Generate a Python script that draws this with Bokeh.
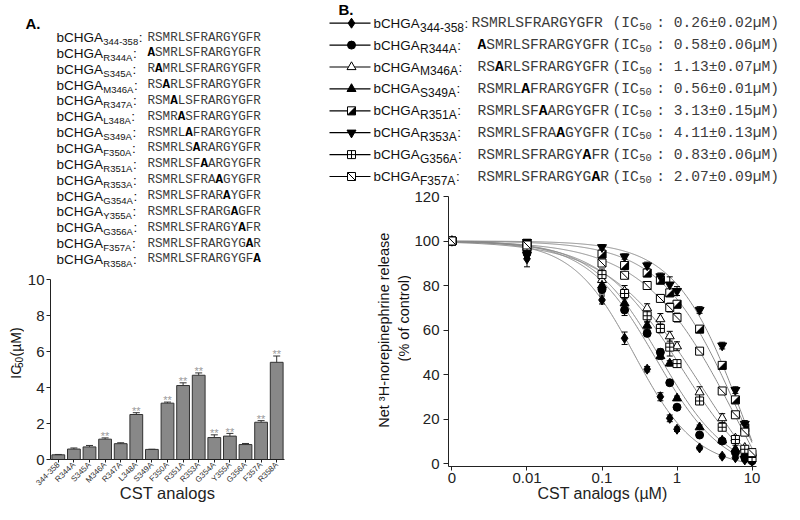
import math
import numpy as np
from bokeh.plotting import figure
from bokeh.models import Range1d, FactorRange, FixedTicker
from bokeh.layouts import row, column
from bokeh.core.properties import value
from bokeh.embed import file_html
from bokeh.resources import INLINE

SANS = "Liberation Sans"
MONO = "Liberation Mono"

# ---------------- data ----------------
base_sequence = "RSMRLSFRARGYGFR"
first_residue = 344

analogs_a = ["344-358", "R344A", "S345A", "M346A", "R347A", "L348A", "S349A", "F350A",
             "R351A", "R353A", "G354A", "Y355A", "G356A", "F357A", "R358A"]
ic50_a = [0.26, 0.58, 0.70, 1.13, 0.88, 2.50, 0.56, 3.13, 4.11, 4.68, 1.22, 1.30, 0.83, 2.07, 5.40]
ic50_err_a = [0.02, 0.06, 0.08, 0.07, 0.05, 0.10, 0.01, 0.06, 0.15, 0.13, 0.15, 0.15, 0.06, 0.09, 0.35]
significant_a = [False, False, False, True, False, True, False, True, True, True, True, True, False, True, True]
yticks_a = [0, 2, 4, 6, 8, 10]

conc_b = [0, 0.01, 0.1, 0.2, 0.4, 0.6, 0.8, 1, 2, 4, 6, 8, 10]
zero_position_b = 0.001
xticks_b = [0.001, 0.01, 0.1, 1, 10]
xtick_labels_b = ["0", "0.01", "0.1", "1", "10"]
yticks_b = [0, 20, 40, 60, 80, 100, 120]

series_b = ["344-358", "R344A", "M346A", "S349A", "R351A", "R353A", "G356A", "F357A"]
ic50_text_b = ["0.26±0.02", "0.58±0.06", "1.13±0.07", "0.56±0.01",
               "3.13±0.15", "4.11±0.13", "0.83±0.06", "2.07±0.09"]

release_344_358 = [100, 92.0, 73.5, 56.3, 42.4, 30.0, 20.3, 15.4, 7.0, 3.3, 2.6, 1.6, 0.9]
release_R344A = [100, 94.5, 78.2, 69.0, 58.5, 50.0, 36.3, 25.3, 12.8, 10.1, 5.0, 2.7, 1.2]
release_M346A = [100, 97.0, 82.5, 77.5, 69.8, 64.9, 57.2, 52.7, 32.0, 20.4, 11.3, 7.1, 3.0]
release_S349A = [100, 96.0, 80.0, 72.0, 62.0, 48.3, 45.0, 29.3, 16.3, 10.4, 6.4, 4.1, 2.0]
release_R351A = [100, 99.0, 94.1, 89.0, 85.6, 82.4, 76.7, 71.6, 60.4, 44.1, 28.6, 16.0, 4.1]
release_R353A = [100, 99.5, 97.2, 93.0, 89.0, 84.1, 80.4, 77.5, 69.0, 53.0, 33.0, 17.8, 2.7]
release_G356A = [100, 97.5, 84.9, 76.4, 66.4, 60.7, 52.3, 44.9, 28.1, 16.3, 10.8, 6.4, 2.7]
release_F357A = [100, 98.2, 90.1, 84.6, 80.0, 74.2, 70.1, 65.6, 50.5, 32.6, 21.9, 14.1, 4.9]

sem_344_358 = [1.5, 3.6, 1.8, 2.8, 1.2, 1.8, 1.5, 1.0, 0.8, 0.8, 0.6, 0.6, 0.5]
sem_R344A = [1.5, 2.5, 2.0, 2.5, 1.5, 1.5, 1.2, 1.2, 1.0, 0.8, 0.8, 0.6, 0.6]
sem_M346A = [1.5, 1.5, 2.0, 2.5, 2.0, 2.5, 2.2, 2.0, 2.5, 2.0, 1.2, 1.0, 0.8]
sem_S349A = [1.5, 1.5, 1.5, 2.0, 1.5, 1.5, 1.2, 1.0, 1.0, 0.8, 1.8, 0.8, 0.6]
sem_R351A = [1.0, 1.5, 1.5, 1.5, 1.5, 1.5, 1.5, 1.5, 1.0, 1.2, 1.2, 1.0, 0.8]
sem_R353A = [1.0, 1.0, 1.2, 1.2, 1.5, 1.5, 3.5, 2.0, 1.5, 1.5, 1.5, 1.5, 0.8]
sem_G356A = [1.5, 2.0, 2.5, 2.0, 2.5, 2.0, 4.0, 1.5, 1.5, 1.5, 1.2, 1.0, 0.8]
sem_F357A = [1.0, 1.5, 1.5, 1.5, 1.5, 1.5, 2.0, 2.0, 1.2, 1.5, 1.2, 1.0, 1.0]

release_b = [release_344_358, release_R344A, release_M346A, release_S349A,
             release_R351A, release_R353A, release_G356A, release_F357A]
sem_b = [sem_344_358, sem_R344A, sem_M346A, sem_S349A,
         sem_R351A, sem_R353A, sem_G356A, sem_F357A]
marker_kinds_b = ["diamond", "circle", "open_triangle", "triangle",
                  "half_square", "inverted_triangle", "square_cross", "square_diag"]

# ---------------- helpers ----------------
AW = {'b': 556, 'C': 722, 'H': 722, 'G': 778, 'A': 667, 'R': 722, 'S': 667, 'M': 833,
      'L': 556, 'F': 611, 'Y': 667, '-': 333, ':': 278, ' ': 278, 'I': 278, '(': 333,
      ')': 333, 'µ': 576}


def tw(s, size):
    return sum(AW.get(c, 556) for c in s) * size / 1000.0


def txt(p, xs, ys, texts, size, font=SANS, style="normal", color="#111111",
        align="left", angle=0.0, baseline="middle"):
    p.text(x=list(xs), y=list(ys), text=list(texts),
           text_font=value(font), text_font_size=value(f"{size}px"),
           text_font_style=value(style), text_color=value(color),
           text_align=value(align), text_baseline=value(baseline), angle=angle)


def blank(w, h):
    p = figure(width=w, height=h, x_range=Range1d(0, w), y_range=Range1d(0, h),
               output_backend="svg", toolbar_location=None,
               x_axis_location=None, y_axis_location=None, min_border=0)
    p.outline_line_color = None
    p.grid.visible = False
    return p


def mutation_index(name):
    if name[0].isalpha() and name.endswith("A"):
        return int(name[1:-1]) - first_residue
    return None


def draw_sequences(p, x0s, ys, names, size):
    adv = 0.6 * size
    nx, ny, nt, bx, by = [], [], [], [], []
    for x0, y, name in zip(x0s, ys, names):
        k = mutation_index(name)
        if k is None:
            nx.append(x0); ny.append(y); nt.append(base_sequence)
        else:
            if k > 0:
                nx.append(x0); ny.append(y); nt.append(base_sequence[:k])
            bx.append(x0 + k * adv); by.append(y)
            if k < len(base_sequence) - 1:
                nx.append(x0 + (k + 1) * adv); ny.append(y); nt.append(base_sequence[k + 1:])
    txt(p, nx, ny, nt, size, font=MONO, color="#3c3c3c")
    txt(p, bx, by, ["A"] * len(bx), size, font=MONO, style="bold", color="#000000")


def draw_markers(p, xs, ys, kind, shift_x, shift_y):
    xs = list(xs); ys = list(ys)
    common = dict(line_color="black", line_width=1)
    if kind == "diamond":
        p.scatter(xs, ys, marker="diamond", size=10, fill_color="black", **common)
    elif kind == "circle":
        p.scatter(xs, ys, marker="circle", size=8, fill_color="black", **common)
    elif kind == "open_triangle":
        p.scatter(xs, ys, marker="triangle", size=9, fill_color="white", **common)
    elif kind == "triangle":
        p.scatter(xs, ys, marker="triangle", size=9, fill_color="black", **common)
    elif kind == "inverted_triangle":
        p.scatter(xs, ys, marker="inverted_triangle", size=9, fill_color="black", **common)
    elif kind == "square_cross":
        p.scatter(xs, ys, marker="square_cross", size=8, fill_color="white", **common)
    elif kind == "half_square":
        p.scatter(xs, ys, marker="square", size=8, fill_color="white", **common)
        h = 4.0
        px = [[shift_x(x, -h), shift_x(x, h), shift_x(x, h)] for x in xs]
        py = [[shift_y(y, -h), shift_y(y, -h), shift_y(y, h)] for y in ys]
        p.patches(px, py, fill_color="black", line_color="black", line_width=0.5)
    elif kind == "square_diag":
        p.scatter(xs, ys, marker="square", size=8, fill_color="white", **common)
        p.scatter(xs, ys, marker="dash", size=11, angle=-math.pi / 4,
                  line_color="black", line_width=1)


def style_axes(p):
    for ax in p.axis:
        ax.axis_line_color = "#222222"
        ax.major_tick_line_color = "#222222"
        ax.minor_tick_line_color = None
        ax.major_tick_in = 0
        ax.major_label_text_font = SANS
        ax.major_label_text_color = "#222222"
        ax.axis_label_text_font = SANS
        ax.axis_label_text_font_style = "normal"
        ax.axis_label_text_color = "#222222"
    p.xgrid.visible = False
    p.ygrid.visible = False
    p.outline_line_color = None


def fit_logistic(conc, resp):
    x = np.asarray(conc, float)
    y = np.asarray(resp, float)

    def search(lc_grid, h_grid, b_grid):
        best = (np.inf, None, None, None)
        C = 10.0 ** lc_grid[:, None, None]
        Hh = h_grid[None, :, None]
        frac = 1.0 / (1.0 + (x[None, None, :] / C) ** Hh)
        for b in b_grid:
            pred = b + (100.0 - b) * frac
            sse = ((pred - y) ** 2).sum(axis=2)
            i = np.unravel_index(np.argmin(sse), sse.shape)
            if sse[i] < best[0]:
                best = (sse[i], lc_grid[i[0]], h_grid[i[1]], b)
        return best

    _, lc, h, b = search(np.arange(-2, 2.001, 0.02), np.arange(0.4, 4.001, 0.05),
                         np.arange(-60, 10.1, 2.0))
    _, lc, h, b = search(np.arange(lc - 0.04, lc + 0.0401, 0.004),
                         np.arange(max(0.2, h - 0.06), h + 0.0601, 0.005),
                         np.arange(b - 2, b + 2.01, 0.2))
    return lc, h, b


LEFT_W = 296
RIGHT_W = 488
TOTAL_H = 504

# ---------------- panel A: sequence list ----------------
A_H = 270
pa = blank(LEFT_W, A_H)
txt(pa, [25], [A_H - 23], ["A."], 15, style="bold", color="#000000")
n = len(analogs_a)
ya = [A_H - (37.0 + 15.85 * i) for i in range(n)]
fsA, fsubA = 13.5, 9.5
xbA = 56
xsA = xbA + tw("bCHGA", fsA) + 0.3
txt(pa, [xbA] * n, ya, ["bCHGA"] * n, fsA)
txt(pa, [xsA] * n, [y - 4 for y in ya], analogs_a, fsubA)
txt(pa, [xsA + tw(a, fsubA) + 0.6 for a in analogs_a], ya, [":"] * n, fsA)
draw_sequences(pa, [147] * n, ya, analogs_a, 12.6)

# ---------------- panel A: bar chart ----------------
YLAB_A_W = 24
BAR_W, BAR_H = LEFT_W - YLAB_A_W, TOTAL_H - A_H
bar_a = figure(width=BAR_W, height=BAR_H, x_range=FactorRange(factors=analogs_a),
               y_range=Range1d(0, 10), output_backend="svg", toolbar_location=None,
               min_border_left=24, min_border_right=12, min_border_top=9, min_border_bottom=41)
bar_a.vbar(x=analogs_a, top=ic50_a, width=0.82, fill_color="#888888",
           line_color="#333333", line_width=1)
upper_a = [v + e for v, e in zip(ic50_a, ic50_err_a)]
bar_a.segment(x0=analogs_a, y0=ic50_a, x1=analogs_a, y1=upper_a,
              line_color="#333333", line_width=1)
bar_a.scatter(x=analogs_a, y=upper_a, marker="dash", size=7, line_color="#333333", line_width=1)
star_x = [a for a, s in zip(analogs_a, significant_a) if s]
star_y = [u + 0.1 for u, s in zip(upper_a, significant_a) if s]
txt(bar_a, star_x, star_y, ["**"] * len(star_x), 11, color="#9a9a9a", align="center")
style_axes(bar_a)
bar_a.yaxis.ticker = FixedTicker(ticks=yticks_a, minor_ticks=[])
bar_a.yaxis.major_label_text_font_size = "15px"
bar_a.yaxis.major_tick_out = 4
bar_a.yaxis.major_label_standoff = 2
bar_a.xaxis.major_label_orientation = math.pi / 4
bar_a.xaxis.major_label_text_font_size = "8px"
bar_a.xaxis.major_label_text_color = "#333333"
bar_a.xaxis.major_tick_out = 3
bar_a.xaxis.major_label_standoff = 1
bar_a.xaxis.axis_label = "CST analogs"
bar_a.xaxis.axis_label_text_font_size = "16.5px"
bar_a.xaxis.axis_label_standoff = -10

ylab_a = blank(YLAB_A_W, BAR_H)
fsy, fsy_sub = 14, 10
yc_a = TOTAL_H - 370
tot = tw("IC", fsy) + tw("50", fsy_sub) + tw(" (µM)", fsy)
y0a = yc_a - tot / 2
txt(ylab_a, [15], [y0a], ["IC"], fsy, angle=math.pi / 2, baseline="alphabetic")
txt(ylab_a, [18], [y0a + tw("IC", fsy)], ["50"], fsy_sub, angle=math.pi / 2, baseline="alphabetic")
txt(ylab_a, [15], [y0a + tw("IC", fsy) + tw("50", fsy_sub) + tw(" ", fsy)], ["(µM)"], fsy,
    angle=math.pi / 2, baseline="alphabetic")

# ---------------- panel B: legend ----------------
B_H = 187
pb = blank(RIGHT_W, B_H)
txt(pb, [42], [B_H - 9], ["B."], 15, style="bold", color="#000000")
m = len(series_b)
yb = [B_H - (22.7 + 21.9 * i) for i in range(m)]
dx = -6
pb.segment(x0=[39 + dx] * m, y0=yb, x1=[80 + dx] * m, y1=yb, line_color="black", line_width=1.2)
for i, kind in enumerate(marker_kinds_b):
    draw_markers(pb, [61 + dx], [yb[i]], kind, lambda x, d: x + d, lambda y, d: y + d)
fsB, fsubB = 13.4, 12
xbB = 83 + dx
xsB = xbB + tw("bCHGA", fsB) + 0.3
txt(pb, [xbB] * m, yb, ["bCHGA"] * m, fsB)
txt(pb, [xsB] * m, [y - 4 for y in yb], series_b, fsubB)
txt(pb, [xsB + tw(s, fsubB) + 0.6 for s in series_b], yb, [":"] * m, fsB)
monoB = 14.6
draw_sequences(pb, [181 + dx] + [187 + dx] * (m - 1), yb, series_b, monoB)
advB = 0.6 * monoB
xic = 322 + dx
txt(pb, [xic] * m, yb, ["(IC"] * m, monoB, font=MONO, color="#3c3c3c")
txt(pb, [xic + 3 * advB + 0.5] * m, [y - 3 for y in yb], ["50"] * m, 10.5, font=MONO, color="#3c3c3c")
txt(pb, [xic + 5 * advB] * m, yb, [f": {v}µM)" for v in ic50_text_b], monoB, font=MONO, color="#3c3c3c")

# ---------------- panel B: dose-response plot ----------------
YLAB_B_W = 115
PB_W, PB_H = RIGHT_W - YLAB_B_W, TOTAL_H - B_H
bl, br, bt, bb = 34, 28, 9, 37
frame_w = PB_W - bl - br
frame_h = PB_H - bt - bb
ppd = 75.75
lg_start = math.log10(zero_position_b) - 3.5 / ppd
lg_end = lg_start + frame_w / ppd
y_end = 120
ppu = 268 / 120
y_start = y_end - frame_h / ppu

plot_b = figure(width=PB_W, height=PB_H, x_axis_type="log",
                x_range=Range1d(10 ** lg_start, 10 ** lg_end), y_range=Range1d(y_start, y_end),
                output_backend="svg", toolbar_location=None,
                min_border_left=bl, min_border_right=br, min_border_top=bt, min_border_bottom=bb)

x_plot = [c if c > 0 else zero_position_b for c in conc_b]
xc = np.logspace(math.log10(zero_position_b), 1, 300)
for resp in release_b:
    lc, h, b = fit_logistic(conc_b, resp)
    yc = b + (100 - b) / (1 + (xc / 10 ** lc) ** h)
    plot_b.line(xc, yc, line_color="#8a8a8a", line_width=1)

for resp, sem in zip(release_b, sem_b):
    lo = [r - s for r, s in zip(resp, sem)]
    hi = [r + s for r, s in zip(resp, sem)]
    plot_b.segment(x0=x_plot, y0=lo, x1=x_plot, y1=hi, line_color="black", line_width=1)
    plot_b.scatter(x_plot + x_plot, lo + hi, marker="dash", size=6, line_color="black", line_width=1)

for resp, kind in zip(release_b, marker_kinds_b):
    draw_markers(plot_b, x_plot, resp, kind,
                 lambda x, d: x * 10 ** (d / ppd), lambda y, d: y + d / ppu)

style_axes(plot_b)
plot_b.xaxis.ticker = FixedTicker(ticks=xticks_b, minor_ticks=[])
overrides = {}
for t, lab in zip(xticks_b, xtick_labels_b):
    overrides[float(t)] = lab
    overrides[str(t)] = lab
plot_b.xaxis.major_label_overrides = overrides
plot_b.yaxis.ticker = FixedTicker(ticks=yticks_b, minor_ticks=[])
for ax in plot_b.axis:
    ax.major_label_text_font_size = "15px"
plot_b.yaxis.major_tick_out = 5
plot_b.yaxis.major_label_standoff = 4
plot_b.xaxis.major_tick_out = 4
plot_b.xaxis.major_label_standoff = 2
plot_b.xaxis.axis_label = "CST analogs (µM)"
plot_b.xaxis.axis_label_text_font_size = "16px"
plot_b.xaxis.axis_label_standoff = -1

ylab_b = blank(YLAB_B_W, PB_H)
txt(ylab_b, [87], [TOTAL_H - 344], ["Net ³H-norepinephrine release"], 14.5, align="center", angle=math.pi / 2)
txt(ylab_b, [107], [TOTAL_H - 330], ["(% of control)"], 14.5, align="center", angle=math.pi / 2)

layout = row(column(pa, row(ylab_a, bar_a)), column(pb, row(ylab_b, plot_b)))

with open("out.html", "w") as f:
    f.write(file_html(layout, INLINE))
